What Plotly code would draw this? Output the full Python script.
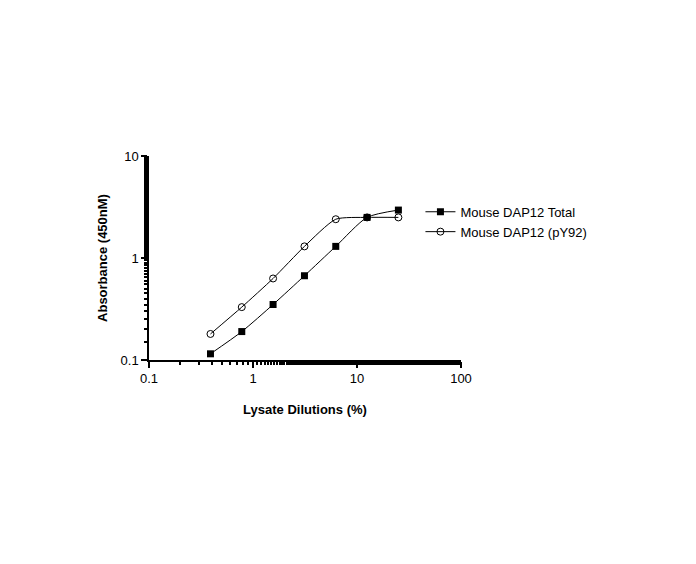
import plotly.graph_objects as go

dilutions = [0.39, 0.78, 1.56, 3.125, 6.25, 12.5, 25]
total = [0.115, 0.19, 0.35, 0.67, 1.3, 2.5, 2.95]
py92 = [0.18, 0.33, 0.63, 1.3, 2.4, 2.5, 2.5]

fig = go.Figure()
fig.add_trace(go.Scatter(
    x=dilutions, y=total, mode="lines+markers", name="Mouse DAP12 Total",
    line=dict(color="black", width=1, shape="spline", smoothing=0.7),
    marker=dict(symbol="square", size=7, color="black"),
))
fig.add_trace(go.Scatter(
    x=dilutions, y=py92, mode="lines+markers", name="Mouse DAP12 (pY92)",
    line=dict(color="black", width=1, shape="spline", smoothing=0.6),
    marker=dict(symbol="circle-open", size=7, color="black", line=dict(width=1)),
))

axis_common = dict(
    type="log", showgrid=False, zeroline=False, showline=True, linecolor="black",
    linewidth=1.5, ticks="outside", ticklen=6, tickwidth=1.5, tickcolor="black",
    minor=dict(ticks="outside", ticklen=3, tickcolor="black", showgrid=False),
    tickfont=dict(family="Liberation Sans", size=13, color="black"),
    automargin=False,
)
fig.update_xaxes(**axis_common, range=[-1, 2], tickvals=[0.1, 1, 10, 100],
                 ticktext=["0.1", "1", "10", "100"],
                 title=dict(text="<b>Lysate Dilutions (%)</b>", standoff=20,
                            font=dict(family="Liberation Sans", size=13, color="black")))
fig.update_yaxes(**axis_common, range=[-1, 1], tickvals=[0.1, 1, 10],
                 ticktext=["0.1", "1", "10"],
                 title=dict(text="<b>Absorbance (450nM)</b>", standoff=10,
                            font=dict(family="Liberation Sans", size=13, color="black")))

fig.update_layout(
    width=696, height=564, plot_bgcolor="white", paper_bgcolor="white",
    margin=dict(l=141, r=243, t=148, b=212),
    font=dict(family="Liberation Sans", color="black"),
    legend=dict(x=0.87, y=0.8, xanchor="left", yanchor="top",
                font=dict(size=13), bgcolor="rgba(0,0,0,0)"),
)
fig.write_html("out.html")
